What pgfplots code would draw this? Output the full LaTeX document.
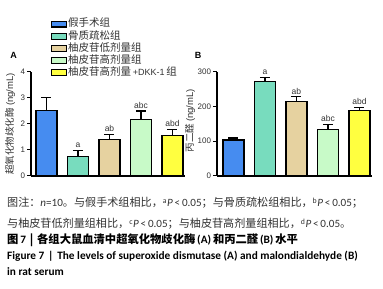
\documentclass[border=0pt]{standalone}
\usepackage{pgfplots}
\pgfplotsset{compat=1.18}
\usepackage{fontspec}
\setmainfont{Liberation Sans}
\newfontfamily\cjk{Noto Sans CJK SC}
\newfontfamily\calfont{Carlito}
\definecolor{cblue}{RGB}{70,140,240}
\definecolor{cteal}{RGB}{120,220,190}
\definecolor{ctan}{RGB}{230,210,160}
\definecolor{cgreen}{RGB}{200,250,200}
\definecolor{cyellow}{RGB}{255,255,64}
\definecolor{captxt}{RGB}{50,50,50}
\newcommand{\fs}[1]{\fontsize{#1}{#1}\selectfont}
\tikzset{lettr/.style={font=\fs{8.5bp},inner sep=0pt,anchor=south,text=captxt}}
\pgfplotsset{
  panel/.style={
    scale only axis,
    anchor=south west,
    axis x line*=bottom, axis y line*=left,
    axis line style={line width=1.3bp,-},
    xtick=\empty,
    ytick style={line width=1bp,black},
    tick align=outside, major tick length=4bp,
    ybar, bar shift=0pt, bar width=0.667,
    ymin=0,
    /pgf/number format/assume math mode=true,
    tick label style={font=\fs{8bp},text=captxt},
    yticklabel style={xshift=1.5bp},
    clip=false,
    every axis plot/.append style={draw=black,line width=1.2bp,
      error bars/y dir=plus, error bars/y explicit,
      error bars/error bar style={line width=1.2bp,black},
      error bars/error mark options={rotate=90,mark size=5bp,line width=1.2bp,black}},
  },
}
\begin{document}
\begin{tikzpicture}
\path[use as bounding box] (0,0) rectangle (383bp,289bp);
% Panel A
\begin{axis}[panel, at={(31bp,113bp)}, width=154bp, height=104.3bp,
  xmin=0.508, xmax=5.397, ymax=4, ytick={0,1,2,3,4},
  ylabel={\cjk 超氧化物歧化酶 \rmfamily(ng/mL)},
  every axis y label/.style={at={(rel axis cs:0,0.50)}, xshift=-21bp, rotate=90,
    anchor=center, font=\fs{9.5bp}, text=captxt, inner sep=0pt},
  legend style={draw=none, fill=none, at={(rel axis cs:0.13,1.509)}, anchor=north west,
    inner sep=0pt, font=\cjk\fs{10.5bp}, text=captxt, row sep=1.4bp,
    nodes={inner sep=0.6bp, text height=7.5bp, text depth=2bp}},
  legend cell align=left,
  legend image code/.code={\draw[#1,line width=1.2bp] (0bp,-2.9bp) rectangle (15bp,2.9bp);},
]
\addplot[fill=cblue] coordinates {(1,2.50) +- (0,0.50)};
\addplot[fill=cteal] coordinates {(2,0.75) +- (0,0.22)};
\addplot[fill=ctan] coordinates {(3,1.41) +- (0,0.17)};
\addplot[fill=cgreen] coordinates {(4,2.16) +- (0,0.33)};
\addplot[fill=cyellow] coordinates {(5,1.56) +- (0,0.21)};
\legend{假手术组,骨质疏松组,柚皮苷低剂量组,柚皮苷高剂量组,柚皮苷高剂量\,{\rmfamily\fs{9bp}+DKK-1}\,组}
\node[lettr] at (axis cs:2,1.08) {a};
\node[lettr] at (axis cs:3,1.68) {ab};
\node[lettr] at (axis cs:4,2.59) {abc};
\node[lettr] at (axis cs:5,1.87) {abd};
\end{axis}
% Panel B
\begin{axis}[panel, at={(217bp,113bp)}, width=155bp, height=104.3bp,
  xmin=0.476, xmax=5.4, ymax=300, ytick={0,100,200,300},
  ylabel={\cjk 丙二醛 \rmfamily(ng/mL)},
  every axis y label/.style={at={(rel axis cs:0,0.53)}, xshift=-27bp, rotate=90,
    anchor=center, font=\fs{9.5bp}, text=captxt, inner sep=0pt},
]
\addplot[fill=cblue] coordinates {(1,103.5) +- (0,6)};
\addplot[fill=cteal] coordinates {(2,271) +- (0,12)};
\addplot[fill=ctan] coordinates {(3,214) +- (0,14)};
\addplot[fill=cgreen] coordinates {(4,134) +- (0,13.5)};
\addplot[fill=cyellow] coordinates {(5,189) +- (0,8.6)};
\node[lettr] at (axis cs:2,291) {a};
\node[lettr] at (axis cs:3,235) {ab};
\node[lettr] at (axis cs:4,156) {abc};
\node[lettr] at (axis cs:5,205) {abd};
\end{axis}
\node[font=\bfseries\fs{9bp}] at (13.5bp,234bp) {A};
\node[font=\bfseries\fs{9bp}] at (198bp,234bp) {B};
% caption
\begin{scope}[every node/.style={anchor=base west,inner sep=0pt}]
\node[text=captxt,font=\cjk\fs{11.1bp}] at (7bp,82bp) {图注：{\calfont\itshape n}{\calfont =10}。与假手术组相比，\textsuperscript{\calfont a}{\calfont\itshape P}{\calfont\,<\,0.05}；与骨质疏松组相比，\textsuperscript{\calfont b}{\calfont\itshape P}{\calfont\,<\,0.05}；};
\node[text=captxt,font=\cjk\fs{11.1bp}] at (7bp,61bp) {与柚皮苷低剂量组相比，\textsuperscript{\calfont c}{\calfont\itshape P}{\calfont\,<\,0.05}；与柚皮苷高剂量组相比，\textsuperscript{\calfont d}{\calfont\itshape P}{\calfont\,<\,0.05}。};
\node[font=\cjk\bfseries\fs{11.3bp}] at (7bp,45bp) {图\,{\calfont\bfseries 7}\,\,|\,\,各组大鼠血清中超氧化物歧化酶\,{\calfont\bfseries (A)}\,和丙二醛\,{\calfont\bfseries (B)}\,水平};
\node[font=\calfont\bfseries\fs{11.3bp}] at (7bp,30bp) {Figure 7\,\,|\,\,The levels of superoxide dismutase (A) and malondialdehyde (B)};
\node[font=\calfont\bfseries\fs{11.3bp}] at (7bp,14bp) {in rat serum};
\end{scope}
\end{tikzpicture}
\end{document}
